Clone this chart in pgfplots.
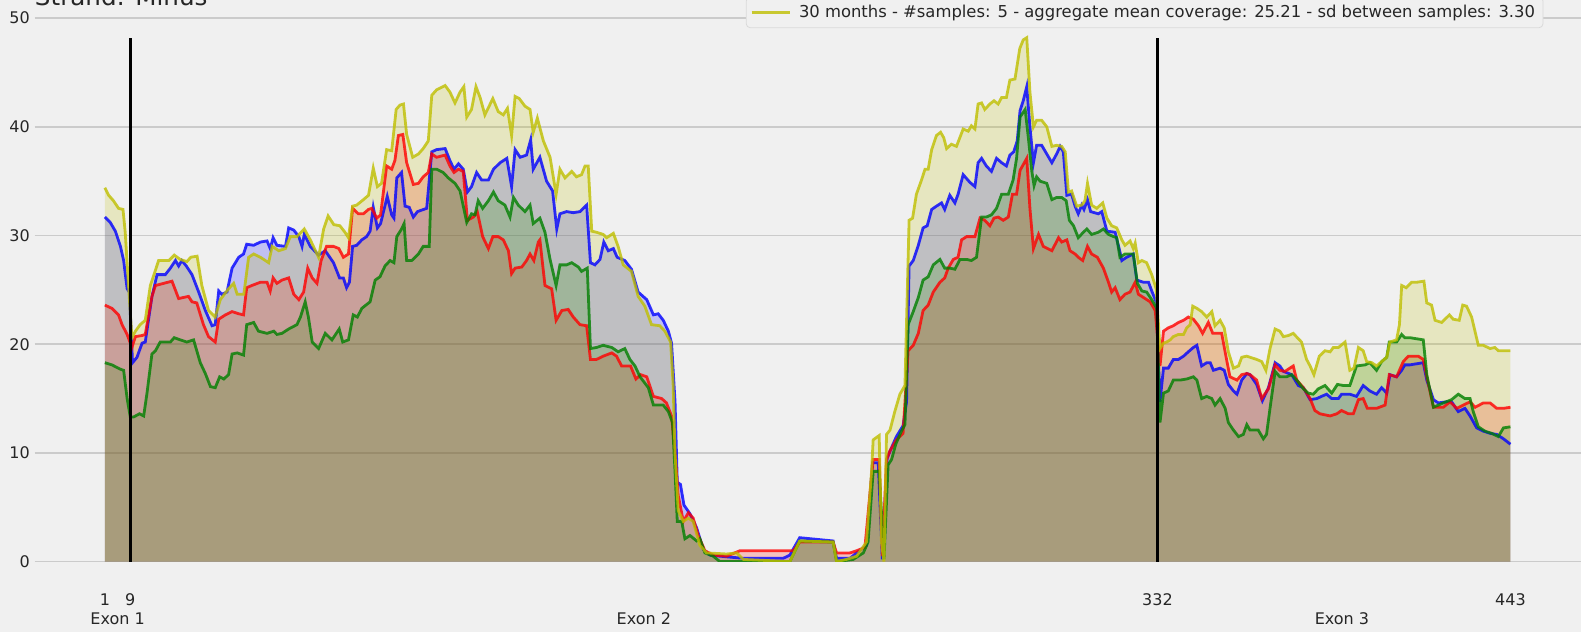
\documentclass[border=0pt]{standalone}
\usepackage{pgfplots}
\pgfplotsset{compat=1.18}
\usepackage{pgfplotstable}
\usepackage{fontspec}
\setmainfont{DejaVu Sans}
\definecolor{bg}{HTML}{F0F0F0}
\definecolor{gridc}{HTML}{CBCBCB}
\definecolor{mplb}{rgb}{0,0,1}
\definecolor{mplr}{rgb}{1,0,0}
\definecolor{mplg}{rgb}{0,0.5,0}
\definecolor{mply}{rgb}{0.75,0.75,0}

\pgfplotstableread{
x y
1 31.7
2.7 31.2
4.3 30.4
5.9 29.0
6.9 27.7
8.0 25.1
8.7 24.8
9.7 18.3
11.1 18.8
12.7 20.1
13.7 20.2
15.8 24.4
17.4 26.4
20.0 26.4
21.6 27.0
23.2 27.7
24.2 27.2
25.2 27.7
26.6 27.2
28.4 26.4
30.5 24.8
32.6 23.1
34.7 21.7
35.7 21.8
36.8 24.9
37.8 24.6
39.4 24.8
41.0 27.0
43.1 28.0
44.6 28.3
45.6 29.2
47.8 29.1
49.9 29.4
52.0 29.5
53.0 28.8
53.9 29.8
55.1 29.1
57.8 29.0
58.8 30.7
60.4 30.5
62.0 29.9
63.0 29.0
63.7 30.1
65.6 29.0
68.2 28.2
70.3 28.6
72.9 27.5
74.8 26.1
76.0 26.1
77.0 25.2
77.9 25.7
78.9 29.0
80.2 29.1
81.8 29.6
83.3 29.9
84.4 30.4
85.4 32.6
86.7 30.7
87.7 31.1
89.8 33.6
91.2 31.9
91.9 31.6
92.8 35.3
94.3 35.8
95.4 32.7
96.7 32.6
98.0 31.7
99.3 32.2
102.2 32.5
103.8 37.7
105.3 37.9
108.0 38.0
109.5 36.9
110.8 36.1
112.2 36.6
113.7 36.1
115.0 34.0
116.3 34.5
117.9 35.8
119.5 35.1
121.6 35.1
123.2 36.1
125.3 36.7
127.4 37.1
128.9 34.5
130.0 37.9
131.6 37.2
133.6 37.4
134.9 38.8
135.7 36.1
137.8 37.2
139.9 35.0
141.8 34.1
143.1 30.6
144.1 32.0
146.2 32.2
148.3 32.1
150.4 32.2
152.5 32.8
153.7 27.5
155.1 27.3
156.7 27.8
157.9 29.4
159.3 28.6
160.9 28.8
162.1 28.0
164.5 27.7
166.6 26.9
168.7 24.8
171.4 24.1
173.5 22.7
175.0 22.8
176.6 22.2
178.2 21.2
179.2 20.1
180.3 14.7
181.0 7.3
182.0 7.1
183.1 5.2
185.0 4.4
187.1 3.1
189.2 1.1
191.3 0.6
194.4 0.5
201.8 0.3
214.3 0.3
216.4 0.6
219.5 2.2
230.0 1.9
231.1 0.3
235.3 0.3
237.4 0.8
240.5 1.5
242.4 9.1
244.2 9.1
245.5 0.2
247.0 9.5
248.4 10.5
249.9 11.5
252.0 12.5
253.1 14.7
253.9 27.2
255.2 27.7
256.8 29.1
258.3 30.7
259.6 30.9
261.0 32.4
262.5 32.7
264.1 33.0
265.1 32.4
266.7 33.7
268.3 33.0
269.3 33.8
270.9 35.6
273.0 34.9
274.6 34.5
275.6 36.7
276.7 37.1
278.2 36.4
279.8 35.9
281.4 37.1
283.0 36.7
284.5 36.4
285.6 37.4
286.8 37.7
287.9 38.7
288.8 41.5
289.8 42.4
290.9 43.7
291.9 40.0
293.0 36.7
294.0 38.3
295.6 38.3
297.2 37.5
298.8 36.7
300.3 37.5
301.4 38.2
302.4 37.7
303.5 33.7
305.0 33.8
306.1 32.7
307.1 32.0
308.2 32.8
308.9 32.4
310.0 33.3
311.0 32.2
313.4 32.0
314.5 32.2
316.1 30.4
318.7 30.3
320.2 28.5
320.8 27.7
322.3 28.0
324.4 28.3
325.5 25.9
327.6 25.7
329.2 25.7
330.2 24.9
331.6 23.9
332.8 14.7
333.9 17.8
335.4 17.8
337.0 18.6
338.6 18.6
340.2 18.9
341.7 19.3
343.3 19.7
344.4 19.9
345.9 18.0
347.5 18.3
348.6 18.3
349.6 17.6
351.7 17.8
353.0 17.6
354.3 16.3
355.9 15.7
357.0 15.4
358.5 16.7
360.1 17.3
361.1 17.2
363.2 16.3
365.0 14.8
366.9 16.0
369.0 18.3
370.5 18.0
371.6 17.5
374.2 17.2
376.3 16.2
377.9 16.0
380.0 14.9
382.1 15.0
383.6 15.2
385.2 15.4
386.8 15.0
388.9 15.0
389.9 15.4
392.5 15.4
394.6 15.2
396.7 16.2
398.8 15.7
400.9 15.4
402.5 16.0
404.1 15.5
405.1 17.2
407.2 17.0
408.8 17.6
409.8 18.1
411.4 18.1
415.6 18.3
416.7 16.7
418.8 14.9
420.3 14.6
422.9 14.7
424.5 14.7
426.6 13.8
428.7 14.1
430.3 13.4
432.4 12.3
434.5 12.0
436.6 11.8
438.7 11.7
440.8 11.3
443.0 10.8
}\tblue

\pgfplotstableread{
x y
1 23.6
3.2 23.3
5.3 22.7
6.4 21.8
8.0 20.9
9.5 19.7
10.6 20.7
12.7 20.8
13.7 20.9
15.8 24.4
16.9 25.4
19.5 25.6
22.1 25.8
24.2 24.2
25.7 24.3
27.3 24.4
28.4 23.9
29.9 23.8
32.0 21.8
33.6 20.7
35.7 20.2
36.8 22.3
38.9 22.7
41.0 23.0
43.1 22.8
44.6 22.7
45.6 25.2
47.2 25.4
49.9 25.7
52.0 25.7
53.0 24.9
53.9 26.1
55.1 25.6
56.7 25.9
58.8 26.1
60.4 24.6
62.0 24.1
63.5 24.8
64.8 27.0
66.2 26.1
67.7 25.6
69.0 27.7
70.7 29.0
72.9 29.0
74.6 28.8
76.0 28.0
77.6 28.3
78.9 32.5
80.7 32.0
82.3 32.0
83.9 32.4
84.9 32.5
86.5 31.6
87.7 31.9
89.6 36.4
91.2 36.1
92.2 36.9
93.3 39.2
94.7 39.3
95.9 36.7
98.0 34.7
99.6 34.8
101.1 35.4
102.7 35.8
103.8 37.5
105.3 37.2
108.0 37.4
109.5 36.4
110.8 35.8
112.2 36.1
113.7 35.9
115.0 31.4
116.9 31.7
118.1 32.2
119.8 29.9
121.6 28.8
123.0 29.9
124.7 29.9
126.3 29.6
127.9 28.6
128.9 26.5
130.0 27.0
132.1 27.1
133.6 27.7
134.7 28.3
135.9 27.7
137.3 29.4
137.8 29.6
139.4 25.4
141.5 25.1
142.9 22.2
144.7 23.1
146.7 23.2
148.3 22.5
150.4 21.8
152.5 21.7
153.7 18.6
155.6 18.6
157.7 18.9
160.4 19.2
161.9 18.9
163.5 18.0
166.3 18.0
168.0 16.8
169.5 17.2
171.4 17.0
173.5 15.2
176.1 15.0
177.6 14.6
179.2 13.4
180.3 9.9
181.3 6.1
182.9 3.7
184.5 4.5
186.0 4.0
187.6 2.4
189.7 1.0
192.3 0.6
196.5 0.5
200.7 1.0
217.5 1.0
219.5 1.8
230.0 1.8
231.1 0.8
235.3 0.8
237.4 1.0
240.0 1.3
242.6 9.4
244.5 9.4
245.5 0.5
246.8 9.4
247.9 10.2
249.9 11.2
252.0 11.8
253.6 19.4
255.2 19.9
256.8 21.0
258.3 23.1
259.9 23.6
261.5 24.8
263.6 25.7
265.1 26.1
266.2 27.0
267.8 27.8
269.3 28.0
270.4 29.6
272.0 29.9
274.6 29.9
276.2 31.6
277.7 31.4
279.3 30.9
280.6 31.6
281.9 31.7
283.5 31.4
285.1 31.7
286.4 33.8
287.7 33.8
288.8 36.0
290.9 37.1
291.9 32.5
293.0 28.8
294.6 30.1
296.1 29.0
298.8 28.6
300.9 29.8
301.9 29.4
303.5 29.6
304.5 28.6
306.1 28.3
307.1 28.0
308.5 27.7
310.0 29.0
311.3 28.3
313.1 28.0
315.0 27.0
316.6 25.7
317.6 24.8
318.7 25.2
320.2 24.1
321.8 24.6
323.4 24.8
325.0 25.7
326.0 24.6
327.6 24.3
329.7 23.9
331.3 23.1
332.8 18.0
333.9 21.2
335.4 21.5
337.0 21.7
338.6 22.0
340.2 22.2
341.7 22.5
343.3 22.3
344.9 21.7
346.2 21.0
348.0 22.0
349.4 21.0
350.6 21.0
352.2 21.0
353.6 18.8
354.8 17.0
357.0 16.7
358.5 17.2
360.1 17.3
361.1 17.2
363.2 16.7
364.8 15.0
366.9 15.9
369.0 18.1
370.5 17.6
372.1 17.5
374.7 18.0
375.8 16.7
377.9 16.0
380.0 15.0
381.5 13.9
383.1 13.6
386.3 13.4
388.4 13.6
389.9 13.9
392.0 13.6
393.6 13.6
395.2 14.9
396.7 15.0
398.0 14.1
400.9 14.1
403.6 14.4
404.9 17.2
407.2 17.0
409.3 18.4
410.9 18.9
414.0 18.9
415.6 18.6
416.7 17.0
418.8 14.2
421.9 14.2
424.0 14.7
426.1 14.1
428.2 14.4
430.3 14.7
431.9 14.2
434.5 14.6
436.6 14.6
438.7 14.1
440.8 14.1
443.0 14.2
}\tred

\pgfplotstableread{
x y
1 18.3
3.2 18.1
5.9 17.7
6.9 17.6
8.0 15.0
9.0 13.3
10.0 13.3
11.9 13.6
13.2 13.4
14.2 15.4
15.8 19.1
16.9 19.4
18.4 20.2
21.6 20.2
22.8 20.6
24.7 20.4
26.8 20.2
28.9 20.4
31.0 18.3
32.6 17.3
34.2 16.1
35.7 16.0
37.1 17.0
38.4 16.8
39.9 17.2
41.0 19.1
42.6 19.2
44.6 19.0
45.6 21.8
47.8 22.0
49.3 21.2
52.0 21.0
54.1 21.2
55.1 20.9
56.7 21.0
58.8 21.4
61.4 21.8
62.5 22.5
64.0 23.9
65.0 22.5
66.2 20.2
68.2 19.6
70.3 21.0
72.4 20.4
74.7 21.4
75.8 20.2
77.6 20.4
79.1 22.7
80.4 22.5
81.8 23.3
84.4 23.9
86.0 25.9
87.5 26.2
89.1 27.2
90.7 27.7
91.9 27.5
92.8 29.9
94.3 30.6
95.1 31.1
95.9 27.7
97.5 27.7
99.6 28.3
101.1 29.0
103.0 29.0
103.8 36.1
105.3 36.1
107.4 35.8
109.0 35.3
111.1 34.8
112.7 34.1
114.8 31.2
116.3 32.0
117.4 31.9
118.4 33.2
119.8 32.5
121.6 33.2
123.2 34.0
124.7 33.2
126.8 32.8
128.4 31.7
129.5 33.5
131.0 32.8
133.1 32.2
134.7 32.8
135.7 31.1
137.8 31.6
139.4 30.3
141.0 27.8
142.9 25.4
144.1 27.3
146.2 27.3
147.8 27.5
149.9 27.1
150.9 26.7
152.7 27.0
153.7 19.6
155.6 19.7
157.7 19.9
160.4 19.7
162.4 19.3
164.5 19.6
166.1 18.6
167.7 18.0
169.3 17.0
171.9 16.0
173.5 14.4
176.6 14.4
178.2 13.8
179.5 12.8
180.3 8.3
181.0 3.7
182.4 3.7
183.4 2.1
185.0 2.4
187.1 1.9
188.1 2.1
189.7 0.8
192.3 0.5
194.4 0.0
216.4 0.0
219.5 1.9
230.0 1.8
231.1 0.0
236.3 0.2
239.5 0.8
241.0 1.8
242.6 8.3
244.5 8.3
246.0 0.2
247.3 8.9
248.4 9.4
249.7 10.8
251.5 12.0
252.6 12.6
253.6 21.8
255.2 23.0
256.8 24.3
258.3 25.9
259.9 26.2
261.5 27.3
263.6 27.8
265.1 27.0
266.7 27.0
268.3 26.9
269.9 27.8
272.0 27.8
273.5 27.7
275.1 28.0
276.7 31.7
278.2 31.7
279.8 31.9
281.4 32.5
283.0 33.8
285.1 33.8
286.6 35.1
287.7 37.1
288.8 40.9
290.4 41.6
291.4 39.0
292.5 35.9
293.2 34.6
294.0 35.4
295.1 35.0
297.2 34.8
298.8 33.3
300.3 33.5
301.9 33.5
303.3 33.2
304.3 31.4
305.6 30.9
307.1 29.8
308.7 30.3
309.8 30.6
311.3 30.1
313.4 30.3
315.0 30.6
316.6 30.1
318.2 29.9
319.2 29.8
320.2 28.0
321.8 28.3
324.4 28.3
325.7 25.6
327.1 24.9
328.6 24.8
330.2 24.1
331.8 23.3
332.8 12.8
333.9 15.5
335.4 15.7
337.0 16.7
339.1 16.7
341.2 16.8
343.3 17.0
344.4 16.7
345.9 15.0
347.5 15.2
349.1 15.0
350.1 14.4
351.7 15.0
353.3 14.1
354.3 12.8
355.9 12.1
357.5 11.5
359.0 11.7
360.1 12.6
361.1 12.1
363.7 12.1
365.3 11.3
366.3 11.7
367.4 14.1
369.0 17.5
370.5 17.0
372.6 17.0
374.2 17.2
375.8 16.7
377.9 15.9
379.4 15.5
381.0 15.4
382.6 15.9
384.7 16.2
386.8 15.5
388.6 16.3
390.5 16.2
392.5 16.2
394.6 18.0
397.3 18.1
398.8 18.3
400.9 17.6
402.5 18.4
404.1 18.8
404.9 20.2
407.2 20.2
408.8 20.9
409.8 20.6
411.4 20.6
415.6 20.4
416.7 17.2
418.8 14.2
421.9 14.6
424.5 14.9
426.6 15.4
428.7 15.0
430.3 15.0
431.3 13.8
432.9 12.4
435.0 12.0
437.1 11.8
439.2 11.5
440.8 12.3
443.0 12.4
}\tgreen

\pgfplotstableread{
x y
1 34.4
2.2 33.7
3.7 33.2
5.3 32.5
6.7 32.4
7.4 30.3
8.5 25.1
9.5 20.6
10.6 21.2
12.1 21.8
13.7 22.2
15.3 25.4
17.9 27.7
21.1 27.7
22.8 28.2
24.7 27.8
26.8 27.6
28.0 28.0
30.0 28.1
31.5 25.4
33.6 23.1
35.7 22.5
37.3 24.1
39.9 25.1
41.5 25.6
42.6 24.6
44.7 24.6
46.2 28.0
47.8 28.3
49.9 28.0
52.5 27.5
53.6 29.0
55.7 28.6
57.8 28.8
59.3 29.9
61.4 29.9
63.7 30.6
65.6 29.6
68.2 28.0
69.8 30.6
71.2 31.8
73.0 31.0
74.9 30.9
76.5 30.3
77.6 29.8
78.9 32.7
80.2 32.8
82.3 33.3
83.9 33.7
85.4 36.2
86.7 34.5
88.0 34.8
89.6 37.9
91.2 37.8
92.6 41.6
93.8 42.0
94.9 42.1
95.9 39.3
97.8 37.2
99.6 37.5
101.1 38.0
102.7 38.7
103.8 42.9
105.3 43.4
108.0 43.8
109.5 43.2
111.1 42.2
112.7 43.2
113.9 43.7
114.8 40.9
116.3 41.6
117.7 43.7
119.0 42.7
120.5 41.1
123.0 42.6
124.7 41.4
126.3 41.1
127.6 41.7
128.9 39.2
130.0 42.8
131.3 42.6
133.1 41.9
134.7 41.6
135.7 39.5
137.0 40.8
138.9 38.7
141.0 37.2
142.9 33.8
144.1 36.1
145.7 35.3
147.8 35.9
149.3 35.4
150.9 35.6
152.0 36.4
153.0 36.4
154.1 30.4
155.6 30.3
157.7 30.1
158.8 29.8
160.9 30.2
162.4 29.0
164.0 27.3
166.6 26.7
168.7 24.4
170.8 23.5
172.9 21.8
175.5 21.7
177.1 21.2
178.9 20.2
179.7 16.3
180.3 9.9
181.3 4.7
182.9 3.7
184.5 4.0
186.0 3.7
188.1 1.5
190.2 0.8
196.5 0.7
199.7 0.8
201.8 0.2
216.4 0.0
219.5 1.9
230.0 1.8
231.1 0.0
234.2 0.2
237.4 0.5
240.5 1.8
242.1 8.3
242.6 11.2
244.5 11.6
245.2 1.8
246.0 0.0
246.8 11.7
247.9 12.1
249.4 13.8
251.0 15.4
252.6 16.2
253.3 24.4
253.9 31.4
255.0 31.6
256.2 33.8
257.8 35.1
258.9 36.1
259.9 36.1
261.0 37.9
262.5 39.2
263.8 39.5
264.8 39.0
265.7 38.0
267.2 38.4
268.8 38.2
270.9 39.8
272.5 39.6
273.5 40.1
274.6 39.8
275.6 42.1
276.7 42.2
277.7 41.6
279.3 42.1
280.6 42.4
281.9 42.1
283.0 42.7
284.5 42.7
285.6 44.3
287.2 44.4
288.7 47.2
289.8 48.0
290.9 48.2
291.9 43.2
293.0 40.0
294.0 40.6
295.6 40.6
297.2 40.0
298.8 38.2
300.3 38.3
301.9 38.2
303.0 37.7
304.0 34.0
305.0 34.1
306.6 32.7
308.2 32.8
309.2 33.2
310.0 34.8
311.3 32.8
312.9 32.5
314.8 33.0
316.1 31.6
317.6 30.9
319.2 30.7
320.8 29.6
321.8 29.1
323.4 29.5
324.4 28.8
325.0 29.3
326.0 27.5
327.1 27.7
328.6 27.5
330.2 26.4
331.6 25.1
332.8 19.6
333.9 20.1
334.9 20.2
336.0 20.4
337.0 20.7
338.6 20.9
340.2 20.9
341.2 21.5
342.3 21.8
343.1 23.5
344.4 23.3
345.9 23.0
347.5 22.5
349.1 23.0
350.1 21.7
351.7 22.2
353.0 21.5
354.3 19.3
355.9 17.8
357.5 18.0
358.5 18.8
360.1 18.9
361.1 18.8
363.2 18.6
364.8 18.4
366.1 17.6
367.4 19.6
369.0 21.4
370.5 21.2
371.6 20.7
373.2 20.8
374.7 21.0
377.3 20.2
378.9 18.6
380.0 18.0
381.2 17.2
382.9 18.9
384.7 19.4
386.3 19.3
387.3 19.7
388.9 19.7
391.0 20.2
392.5 17.6
393.8 17.8
395.2 19.7
396.7 19.4
397.8 18.4
399.4 18.3
400.9 18.0
402.5 18.4
404.1 18.8
405.1 20.2
407.2 20.4
408.1 21.8
408.8 25.4
410.2 25.2
411.9 25.7
413.5 25.7
415.8 25.8
416.7 23.8
418.2 23.6
419.3 22.2
421.4 22.0
423.8 22.7
425.0 22.3
426.9 22.2
428.0 23.6
429.2 23.5
430.8 22.5
432.9 19.9
434.5 19.9
436.6 19.6
438.1 19.7
439.2 19.4
443.0 19.4
}\tyellow

\begin{document}
\begin{tikzpicture}
\path[use as bounding box] (-17.3pt,-35.2pt) rectangle (773.2pt,280.8pt);
\fill[bg] (-17.3pt,-35.2pt) rectangle (773.2pt,280.8pt);
\clip (-17.3pt,-35.2pt) rectangle (773.2pt,280.8pt);
\begin{axis}[
  scale only axis, width=773.05pt, height=275pt,
  xmin=-21.1, xmax=465.1, ymin=0, ymax=50.6,
  axis line style={draw=none},
  major tick length=0pt,
  axis background/.style={fill=bg},
  ymajorgrids, xmajorgrids=false,
  grid style={gridc, line width=0.8pt},
  ytick={0,10,20,30,40,50},
  xtick={1,9,332,443},
  extra x ticks={5,170.5,390},
  extra x tick labels={Exon 1,Exon 2,Exon 3},
  extra x tick style={grid=none, xticklabel style={yshift=-9.5pt}},
  xticklabel style={anchor=base, yshift=-21.9pt, inner sep=0pt},
  yticklabel style={anchor=east, inner sep=0pt, xshift=-2.2pt},
  tick label style={font=\fontsize{8}{9.6}\selectfont, text=black!85},
  /pgf/number format/assume math mode=true,
  every axis title shift=0pt,
  title={Strand: Minus},
  title style={at={(0,1)}, anchor=base west, yshift=3.3pt, inner sep=0pt, font=\fontsize{12.3}{14}\selectfont, text=black!85},
  legend style={at={(0.460,0.970)}, anchor=south west, draw=gray!30, fill=bg, rounded corners=2pt, font=\fontsize{8.2}{9.8}\selectfont, text=black!85, inner xsep=2pt, inner ysep=1.8pt},
  legend cell align=left,
  legend image code/.code={\draw[#1] (0pt,0pt) -- (19pt,0pt);},
]
\addplot[draw=none, fill=mplb, fill opacity=0.2, forget plot] table {\tblue} \closedcycle;
\addplot[draw=none, fill=mplr, fill opacity=0.2, forget plot] table {\tred} \closedcycle;
\addplot[draw=none, fill=mplg, fill opacity=0.2, forget plot] table {\tgreen} \closedcycle;
\addplot[draw=none, fill=mply, fill opacity=0.2, forget plot] table {\tyellow} \closedcycle;
\addplot[mplb, draw opacity=0.8, line width=1.4pt, forget plot] table {\tblue};
\addplot[mplr, draw opacity=0.8, line width=1.4pt, forget plot] table {\tred};
\addplot[mplg, draw opacity=0.8, line width=1.4pt, forget plot] table {\tgreen};
\addplot[mply, draw opacity=0.8, line width=1.4pt] table {\tyellow};
\addlegendentry{\hspace{2pt}30 months - \#samples: 5 - aggregate mean coverage: 25.21 - sd between samples: 3.30}
\addplot[black, line width=1.2pt, forget plot] coordinates {(9,0) (9,48.2)};
\addplot[black, line width=1.2pt, forget plot] coordinates {(332,0) (332,48.2)};
\end{axis}
\end{tikzpicture}
\end{document}
